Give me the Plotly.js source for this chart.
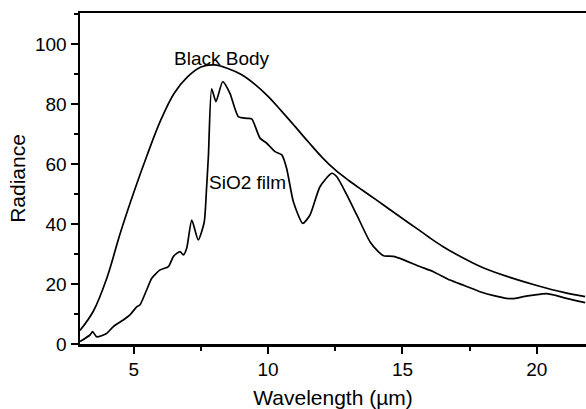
<!DOCTYPE html>
<html>
<head>
<meta charset="utf-8">
<script src="https://cdn.plot.ly/plotly-3.0.1.min.js"></script>
<style>html,body{margin:0;padding:0;background:#fff;}#chart{width:586px;height:409px;}</style>
</head>
<body>
<div id="chart"></div>
<script>
var bbX = [3, 3.5, 4, 4.5, 5, 5.5, 6, 6.5, 7, 7.5, 8, 8.5, 9, 9.5, 10, 10.5, 11, 11.5, 12, 12.5, 13, 13.5, 14, 14.5, 15, 15.5, 16, 16.5, 17, 18, 19, 20, 21, 21.8];
var bbY = [4.5, 11, 22, 37, 50.5, 63, 74.5, 83.5, 89, 92.3, 93, 91.8, 89.8, 86.6, 82.5, 77.6, 72.5, 67.3, 62.3, 58, 54.5, 51.3, 48.2, 45, 41.8, 38.7, 35.5, 32.5, 29.9, 25.4, 22.2, 19.5, 17.2, 15.8];

var filmX = [3, 3.37, 3.47, 3.62, 3.99, 4.24, 4.61, 4.86, 5.11, 5.23, 5.48, 5.67, 5.98, 6.29, 6.47, 6.6, 6.72, 6.85, 6.97, 7.16, 7.4, 7.62, 7.71, 7.78, 7.9, 8.06, 8.31, 8.58, 8.89, 9.2, 9.39, 9.7, 9.95, 10.26, 10.51, 10.69, 10.94, 11.29, 11.56, 11.93, 12.37, 12.55, 12.93, 13.3, 13.79, 14.1, 14.3, 14.66, 15.0, 15.65, 16.15, 16.77, 17.3, 17.89, 18.4, 18.88, 19.2, 19.5, 19.87, 20.37, 20.7, 21.1, 21.8];
var filmY = [0.8, 3, 4.1, 2.4, 3.5, 5.8, 8, 9.7, 12.4, 13, 18, 21.9, 24.7, 25.8, 29.1, 30.2, 30.8, 29.7, 31.9, 41.3, 34.7, 40.5, 52, 63, 85, 80.8, 87.4, 83.5, 75.8, 75.2, 75, 68.6, 66.9, 64.1, 63, 58.5, 47.4, 40.2, 43, 52.4, 56.9, 55.8, 49.7, 43, 34.1, 30.8, 29.4, 29.2, 28.2, 25.8, 24.1, 21.3, 19.5, 17.4, 16.1, 15.2, 15.2, 15.8, 16.3, 16.8, 16.2, 15.2, 13.8];

var xTicks = [5, 10, 15, 20];
var yTicks = [0, 20, 40, 60, 80, 100];

var font = "Liberation Sans, Arial, Helvetica, sans-serif";

var traces = [
  {x: bbX, y: bbY, mode: 'lines', line: {color: 'black', width: 1.7, shape: 'spline', smoothing: 1}, hoverinfo: 'skip'},
  {x: filmX, y: filmY, mode: 'lines', line: {color: 'black', width: 1.7, shape: 'spline', smoothing: 0.6}, hoverinfo: 'skip'}
];

var layout = {
  width: 586, height: 409,
  margin: {l: 80, r: 0, t: 13, b: 65},
  paper_bgcolor: 'white', plot_bgcolor: 'white',
  showlegend: false,
  font: {family: font, color: 'black', size: 19},
  xaxis: {
    range: [3, 21.83], showgrid: false, zeroline: false,
    showline: true, linecolor: 'black', linewidth: 2.5, mirror: true,
    tickmode: 'array', tickvals: xTicks, ticktext: xTicks.map(String),
    ticks: 'outside', ticklen: 7, tickwidth: 2, tickcolor: 'black',
    minor: {tickmode: 'linear', tick0: 0, dtick: 2.5, ticks: 'outside', ticklen: 4, tickwidth: 2, tickcolor: 'black', showgrid: false},
    tickfont: {size: 19, family: font, color: 'black'},
    title: {text: 'Wavelength (\u00b5m)', font: {size: 21, family: font, color: 'black'}, standoff: 14}
  },
  yaxis: {
    range: [0, 110.3], showgrid: false, zeroline: false,
    showline: true, linecolor: 'black', linewidth: 2.5, mirror: false,
    tickmode: 'array', tickvals: yTicks, ticktext: yTicks.map(String),
    ticks: 'outside', ticklen: 7, tickwidth: 2, tickcolor: 'black',
    minor: {tickmode: 'linear', tick0: 0, dtick: 10, ticks: 'outside', ticklen: 4, tickwidth: 2, tickcolor: 'black', showgrid: false},
    tickfont: {size: 19, family: font, color: 'black'},
    title: {text: 'Radiance', font: {size: 21, family: font, color: 'black'}, standoff: 4}
  },
  annotations: [
    {x: 8.27, y: 95.3, xref: 'x', yref: 'y', text: 'Black Body', showarrow: false, font: {size: 19, family: font, color: 'black'}},
    {x: 9.22, y: 53.8, xref: 'x', yref: 'y', text: 'SiO2 film', showarrow: false, font: {size: 19, family: font, color: 'black'}}
  ]
};

Plotly.newPlot('chart', traces, layout, {displayModeBar: false, staticPlot: true});
</script>
</body>
</html>
